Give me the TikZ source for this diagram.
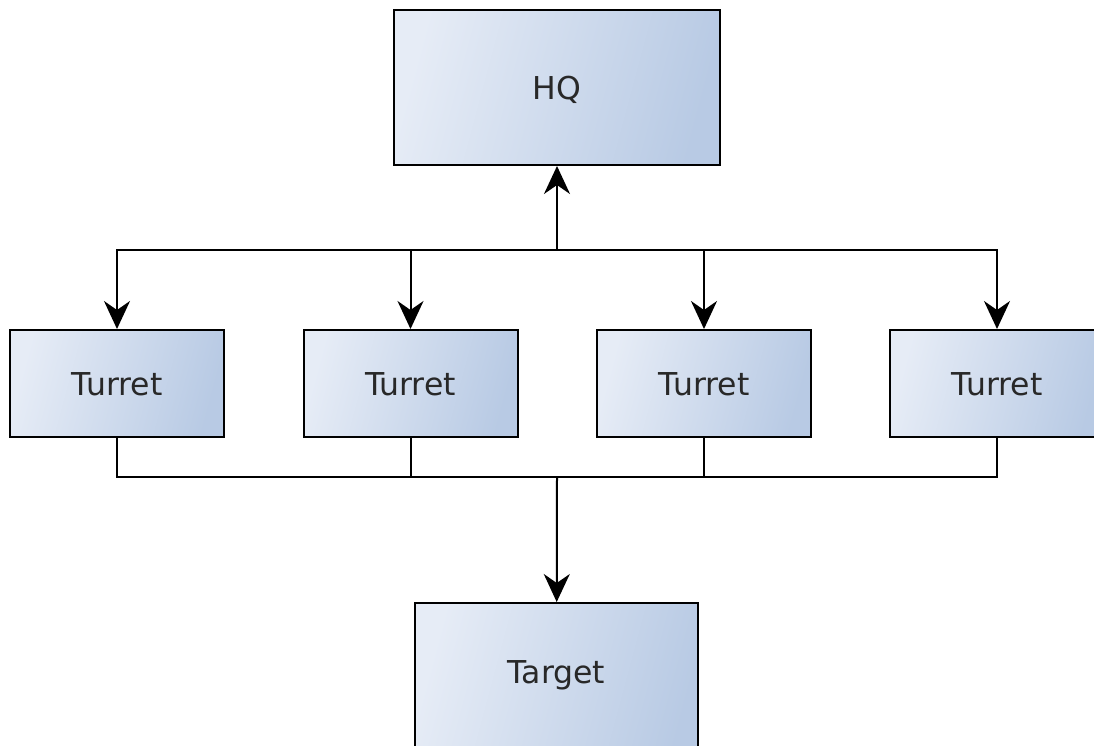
\documentclass[tikz,border=0pt]{standalone}
\usepackage{fontspec}
\setmainfont{DejaVu Sans}
\usetikzlibrary{arrows.meta}

\definecolor{boxlight}{RGB}{230,236,246}
\definecolor{boxdark}{RGB}{184,202,228}
\definecolor{labelgray}{RGB}{40,40,40}

\begin{document}
\begin{tikzpicture}[
    x=1pt, y=-1pt,
    unit_box/.style={draw=black,line width=2pt,left color=boxlight,right color=boxdark,
        shading angle=75,text=labelgray,inner sep=0pt,
        font=\fontsize{31.5}{37}\selectfont,text height=23pt,text depth=0pt},
    link/.style={line width=2pt},
    arrow_link/.style={link,-{Stealth[length=28pt,width=26pt,inset=9pt]}}
]
\useasboundingbox (0,0) rectangle (1094,745);

% HQ and target (target runs past the lower edge)
\node[unit_box,minimum width=326pt,minimum height=155pt] (hq) at (557,87.5) {HQ};
\node[unit_box,minimum width=283pt,minimum height=170pt,text depth=32pt] (target) at (556.5,688) {Target};

% Turrets
\foreach \i/\x in {1/117, 2/410.5, 3/704, 4/997}
    \node[unit_box,minimum width=214pt,minimum height=107pt] (t\i) at (\x,383.5) {Turret};

% Junctions of the two buses
\coordinate (topbus) at (557,250);
\coordinate (botbus) at (557,477);

% HQ to turrets
\draw[arrow_link] (topbus) -- (hq);
\foreach \i in {1,...,4}
    \draw[arrow_link] (topbus) -| (t\i);

% Turrets to target
\foreach \i in {1,...,4}
    \draw[link] (t\i) |- (botbus);
\draw[arrow_link] (botbus) -- (target);

\end{tikzpicture}
\end{document}
